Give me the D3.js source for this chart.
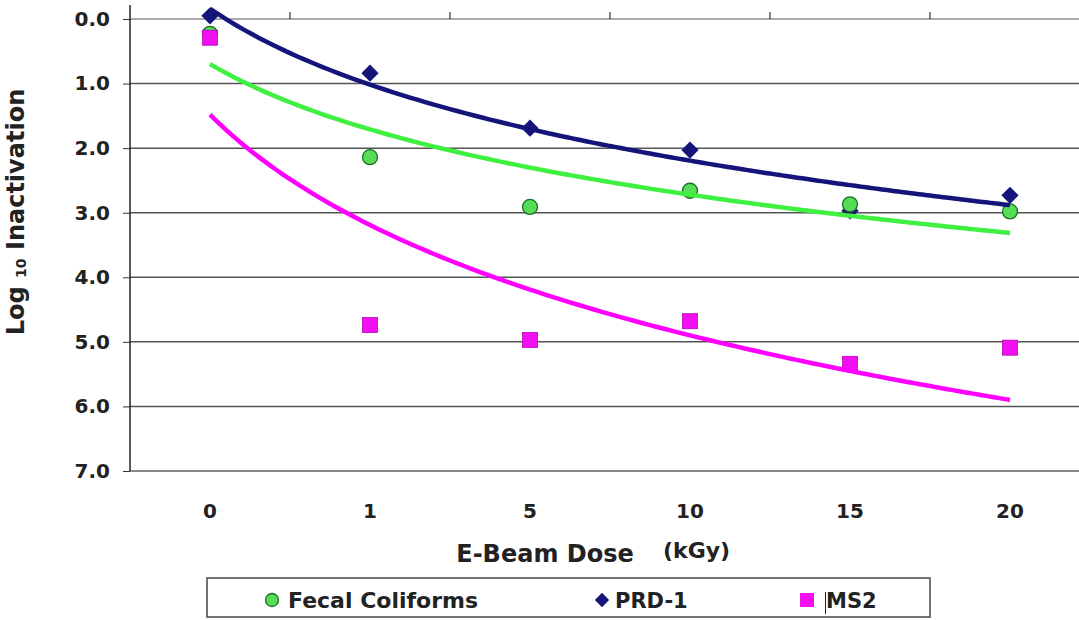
<!DOCTYPE html>
<html>
<head>
    <meta charset="utf-8">
    <title>E-Beam Dose inactivation</title>
    <script src="https://d3js.org/d3.v7.min.js"></script>
    <style>
        body { margin: 0; background: #fff; }
        text { font-family: "DejaVu Sans", sans-serif; font-weight: bold; fill: #222; }
    </style>
</head>
<body>
<div id="chart"></div>
<script>
    // doses (kGy) shown as evenly spaced categories
    let doses = ["0", "1", "5", "10", "15", "20"];
    let fecal = [0.23, 2.14, 2.91, 2.66, 2.87, 2.98];
    let prd1 = [-0.05, 0.84, 1.69, 2.03, 2.97, 2.73];
    let ms2 = [0.29, 4.74, 4.97, 4.68, 5.34, 5.09];
    let yTicks = [0, 1, 2, 3, 4, 5, 6, 7];

    let W = 1079, H = 620;
    let margin = {left: 130, top: 19, bottom: 471};

    let svg = d3.select("#chart").append("svg")
        .attr("width", W).attr("height", H);

    let x = d3.scaleBand().domain(doses).range([margin.left, margin.left + 6 * 160]);
    let cx = d => x(d) + x.bandwidth() / 2;
    // continuous position (1..6) for the trend curves
    let xi = d3.scaleLinear().domain([1, doses.length]).range([cx(doses[0]), cx(doses[doses.length - 1])]);
    let y = d3.scaleLinear().domain([0, 7]).range([margin.top, margin.bottom]);

    // gridlines
    svg.append("g").selectAll("line")
        .data(yTicks)
        .enter().append("line")
        .attr("x1", margin.left).attr("x2", W)
        .attr("y1", d => y(d)).attr("y2", d => y(d))
        .attr("stroke", d => d == 0 ? "#aaa" : (d == 7 ? "#888" : "#555"))
        .attr("stroke-width", d => d == 0 || d == 7 ? 2 : 1.5);

    // y axis
    let yAxis = d3.axisLeft(y).tickValues(yTicks).tickFormat(d3.format(".1f")).tickSize(7).tickPadding(13);
    let gy = svg.append("g").attr("transform", "translate(" + margin.left + ",0)").call(yAxis);
    gy.select(".domain").remove();
    gy.selectAll(".tick line").attr("stroke", "#333");
    gy.selectAll(".tick text").attr("font-size", 20).attr("fill", "#222")
        .attr("font-family", "DejaVu Sans, sans-serif");
    svg.append("line").attr("x1", margin.left).attr("x2", margin.left).attr("y1", 5).attr("y2", margin.bottom)
        .attr("stroke", "#222").attr("stroke-width", 1.5);

    // top category ticks (axis crosses at 0.0)
    let boundaries = doses.slice(1).map(d => x(d));
    svg.append("g").selectAll("line")
        .data(boundaries)
        .enter().append("line")
        .attr("x1", d => d).attr("x2", d => d)
        .attr("y1", margin.top - 7).attr("y2", margin.top)
        .attr("stroke", "#333").attr("stroke-width", 1.2);

    // x tick labels
    svg.append("g").selectAll("text")
        .data(doses)
        .enter().append("text")
        .attr("x", d => cx(d)).attr("y", 518)
        .attr("text-anchor", "middle").attr("font-size", 20)
        .text(d => d);

    // axis titles
    svg.append("text").attr("x", 545).attr("y", 562)
        .attr("text-anchor", "middle").attr("font-size", 24).text("E-Beam Dose");
    svg.append("text").attr("x", 663).attr("y", 558)
        .attr("font-size", 22).attr("font-family", "Open Sans, sans-serif").text("(kGy)");

    let yt = svg.append("text").attr("transform", "translate(24,212) rotate(-90)")
        .attr("text-anchor", "middle").attr("font-size", 24);
    yt.append("tspan").text("Log ");
    yt.append("tspan").attr("font-size", 14).attr("dy", 2).text("10");
    yt.append("tspan").attr("dy", -2).text(" Inactivation");

    // logarithmic trend fit (least squares on ln of category index)
    function logFit(vals) {
        let lx = vals.map((v, i) => Math.log(i + 1));
        let mx = d3.mean(lx), my = d3.mean(vals);
        let sxy = d3.sum(vals, (v, i) => (lx[i] - mx) * (v - my));
        let sxx = d3.sum(lx, l => (l - mx) * (l - mx));
        let b = sxy / sxx, a = my - b * mx;
        return d3.range(1, 6.001, 0.05).map(t => [t, a + b * Math.log(t)]);
    }

    let line = d3.line().x(d => xi(d[0])).y(d => y(d[1])).curve(d3.curveMonotoneX);

    let series = [
        {vals: ms2, color: "#ff00ff"},
        {vals: fecal, color: "#40f040"},
        {vals: prd1, color: "#14147a"}
    ];

    // markers
    svg.append("g").selectAll("path.dia")
        .data(prd1)
        .enter().append("path")
        .attr("d", d3.symbol().type(d3.symbolDiamond2).size(190))
        .attr("transform", (d, i) => "translate(" + cx(doses[i]) + "," + y(d) + ")")
        .attr("fill", "#14147a");

    svg.append("g").selectAll("circle")
        .data(fecal)
        .enter().append("circle")
        .attr("cx", (d, i) => cx(doses[i])).attr("cy", d => y(d))
        .attr("r", 7.5)
        .attr("fill", "#55dd55").attr("stroke", "#1f6b2a").attr("stroke-width", 1.3);

    svg.append("g").selectAll("rect")
        .data(ms2)
        .enter().append("rect")
        .attr("x", (d, i) => cx(doses[i]) - 7.5).attr("y", d => y(d) - 7.5)
        .attr("width", 15).attr("height", 15)
        .attr("fill", "#f010f0").attr("stroke", "#c000c0").attr("stroke-width", 0.8);

    svg.append("g").selectAll("path.trend")
        .data(series)
        .enter().append("path")
        .attr("d", s => line(logFit(s.vals)))
        .attr("fill", "none").attr("stroke", s => s.color)
        .attr("stroke-width", 4.5);

    // legend
    let lg = svg.append("g");
    lg.append("rect").attr("x", 207).attr("y", 578).attr("width", 723).attr("height", 39)
        .attr("fill", "#fff").attr("stroke", "#444").attr("stroke-width", 1.5);
    lg.append("circle").attr("cx", 272).attr("cy", 600).attr("r", 6.5)
        .attr("fill", "#55dd55").attr("stroke", "#1f6b2a").attr("stroke-width", 1.3);
    lg.append("text").attr("x", 288).attr("y", 608).attr("font-size", 22).text("Fecal Coliforms");
    lg.append("path").attr("d", d3.symbol().type(d3.symbolDiamond2).size(130))
        .attr("transform", "translate(602,600)").attr("fill", "#14147a");
    lg.append("text").attr("x", 615).attr("y", 608).attr("font-size", 21).text("PRD-1");
    lg.append("rect").attr("x", 800).attr("y", 593).attr("width", 14).attr("height", 14)
        .attr("fill", "#f010f0");
    lg.append("line").attr("x1", 825.5).attr("x2", 825.5).attr("y1", 592).attr("y2", 614)
        .attr("stroke", "#222").attr("stroke-width", 1);
    lg.append("text").attr("x", 826).attr("y", 608).attr("font-size", 21).text("MS2");
</script>
</body>
</html>
